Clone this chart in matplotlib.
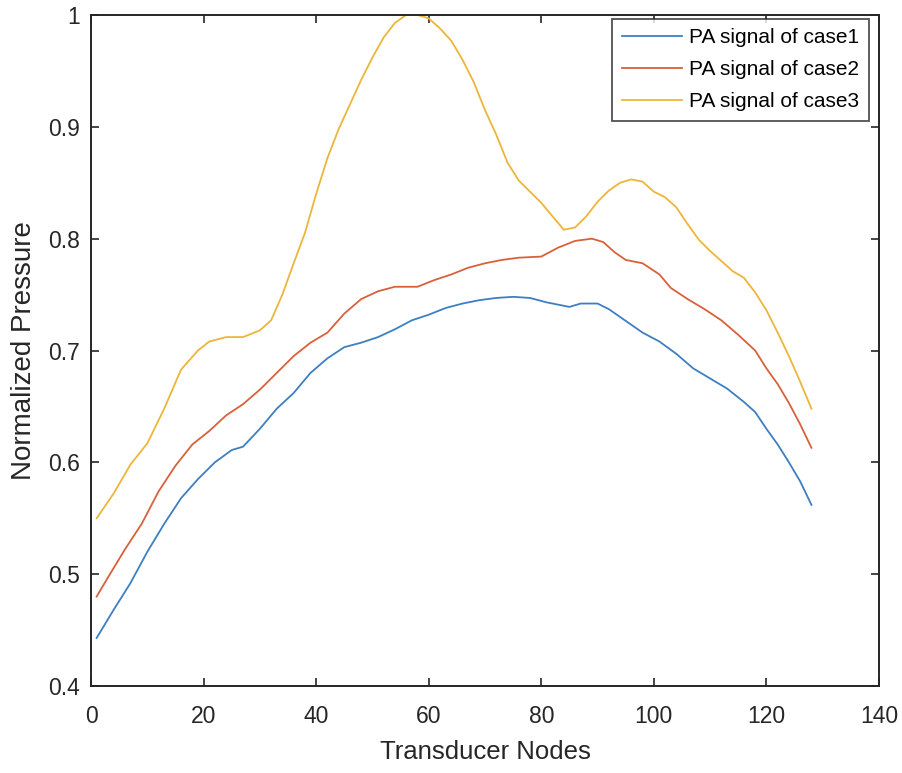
import matplotlib
matplotlib.use("Agg")
import matplotlib.pyplot as plt

plt.rcParams['font.family'] = ['Liberation Sans', 'DejaVu Sans']

# ---- data ----
x1 = [1, 4, 7, 10, 13, 16, 19, 22, 25, 27, 30, 33, 36, 39, 42, 45, 48, 51, 54, 57, 60, 63,
      66, 69, 72, 75, 78, 81, 83, 85, 87, 90, 92, 94, 96, 98, 101, 104, 107, 110, 113, 116,
      118, 120, 122, 124, 126, 128]
case1 = [0.443, 0.468, 0.492, 0.520, 0.545, 0.568, 0.585, 0.600, 0.611, 0.614, 0.630, 0.648,
         0.662, 0.680, 0.693, 0.703, 0.707, 0.712, 0.719, 0.727, 0.732, 0.738, 0.742, 0.745,
         0.747, 0.748, 0.747, 0.743, 0.741, 0.739, 0.742, 0.742, 0.737, 0.730, 0.723, 0.716,
         0.708, 0.697, 0.684, 0.675, 0.666, 0.654, 0.645, 0.630, 0.616, 0.600, 0.583, 0.562]

x2 = [1, 3, 6, 9, 12, 15, 18, 21, 24, 27, 30, 33, 36, 39, 42, 45, 48, 51, 54, 58, 61, 64,
      67, 70, 73, 76, 80, 83, 86, 89, 91, 93, 95, 98, 101, 103, 106, 109, 112, 115, 118,
      120, 122, 124, 126, 128]
case2 = [0.480, 0.497, 0.522, 0.545, 0.574, 0.597, 0.616, 0.628, 0.642, 0.652, 0.665, 0.680,
         0.695, 0.707, 0.716, 0.733, 0.746, 0.753, 0.757, 0.757, 0.763, 0.768, 0.774, 0.778,
         0.781, 0.783, 0.784, 0.792, 0.798, 0.800, 0.797, 0.788, 0.781, 0.778, 0.768, 0.756,
         0.746, 0.737, 0.727, 0.714, 0.700, 0.684, 0.670, 0.653, 0.634, 0.613]

x3 = [1, 4, 7, 10, 13, 16, 19, 21, 24, 27, 30, 32, 34, 36, 38, 40, 42, 44, 46, 48, 50, 52,
      54, 56, 58, 60, 62, 64, 66, 68, 70, 72, 74, 76, 78, 80, 82, 84, 86, 88, 90, 92, 94,
      96, 98, 100, 102, 104, 106, 108, 110, 112, 114, 116, 118, 120, 122, 124, 126, 128]
case3 = [0.550, 0.572, 0.598, 0.617, 0.648, 0.683, 0.700, 0.708, 0.712, 0.712, 0.718, 0.727,
         0.750, 0.778, 0.805, 0.840, 0.872, 0.898, 0.920, 0.942, 0.962, 0.980, 0.993, 1.000,
         1.000, 0.997, 0.988, 0.977, 0.960, 0.940, 0.915, 0.893, 0.868, 0.852, 0.842, 0.832,
         0.820, 0.808, 0.810, 0.820, 0.833, 0.843, 0.850, 0.853, 0.851, 0.842, 0.837, 0.828,
         0.813, 0.799, 0.789, 0.780, 0.771, 0.765, 0.752, 0.736, 0.716, 0.695, 0.672, 0.648]

labels = ["PA signal of case1", "PA signal of case2", "PA signal of case3"]
xticks = [0, 20, 40, 60, 80, 100, 120, 140]
yticks = [0.4, 0.5, 0.6, 0.7, 0.8, 0.9, 1.0]
yticklabels = ["0.4", "0.5", "0.6", "0.7", "0.8", "0.9", "1"]

colors = ["#3D7FC1", "#D8613A", "#EDB53A"]

fig = plt.figure(figsize=(9.03, 7.73), dpi=100)
ax = fig.add_axes([0.1008, 0.1125, 0.8726, 0.8681])

ax.plot(x1, case1, color=colors[0], lw=1.3, label=labels[0])
ax.plot(x2, case2, color=colors[1], lw=1.3, label=labels[1])
ax.plot(x3, case3, color=colors[2], lw=1.3, label=labels[2], clip_on=False)

ax.set_xlim(0, 140)
ax.set_ylim(0.4, 1.0)
ax.set_xticks(xticks)
ax.set_xticklabels([str(t) for t in xticks])
ax.set_yticks(yticks)
ax.set_yticklabels(yticklabels)

ax.tick_params(direction='in', length=6, width=1.2, top=True, right=True,
               labelsize=16.5, colors='#262626')
ax.tick_params(axis='x', pad=14)
ax.tick_params(axis='y', pad=8)
for s in ax.spines.values():
    s.set_linewidth(1.4)
    s.set_color('#262626')

ax.set_xlabel("Transducer Nodes", fontsize=18.5, color='#262626', labelpad=8)
ax.set_ylabel("Normalized Pressure", fontsize=20, color='#262626', labelpad=8)

leg = ax.legend(loc='upper right', bbox_to_anchor=(869 / 903, 1 - 19 / 773),
                bbox_transform=fig.transFigure, borderaxespad=0,
                fontsize=15, frameon=True, fancybox=False,
                edgecolor='#262626', handlelength=2.9, handletextpad=0.35,
                labelspacing=0.62, borderpad=0.45)
leg.get_frame().set_linewidth(1.3)

fig.savefig("out.png", dpi=100)
